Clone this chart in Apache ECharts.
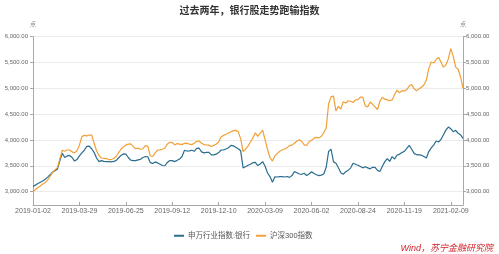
<!DOCTYPE html>
<html><head><meta charset="utf-8">
<script src="https://cdn.jsdelivr.net/npm/echarts@6/dist/echarts.min.js"></script>
<style>html,body{margin:0;padding:0;background:#fff}#c{width:499px;height:254px}</style>
</head><body><div id="c"></div>
<script>
const titleText = '过去两年，银行股走势跑输指数';
const seriesNames = ['申万行业指数:银行', '沪深300指数'];
const sourceText = 'Wind，苏宁金融研究院';
const unitName = '点';
// trading-day calendar (weekday market closures), sampled every 3rd trading day
const startDate = [2019, 0, 2];
const holidays = [
  '2019-01-01','2019-02-04','2019-02-05','2019-02-06','2019-02-07','2019-02-08','2019-04-05',
  '2019-05-01','2019-05-02','2019-05-03','2019-06-07','2019-09-13',
  '2019-10-01','2019-10-02','2019-10-03','2019-10-04','2019-10-07',
  '2020-01-01','2020-01-24','2020-01-27','2020-01-28','2020-01-29','2020-01-30','2020-01-31',
  '2020-04-06','2020-05-01','2020-05-04','2020-05-05','2020-06-25','2020-06-26',
  '2020-10-01','2020-10-02','2020-10-05','2020-10-06','2020-10-07','2020-10-08',
  '2021-01-01','2021-02-11','2021-02-12','2021-02-15','2021-02-16','2021-02-17'
];
const sampleStep = 3;
const bankIndex = [
  3100,3125,3155,3180,3205,3240,3280,3325,3375,3405,
  3435,3600,3740,3660,3690,3700,3660,3590,3620,3690,
  3750,3800,3875,3880,3830,3760,3650,3580,3600,3585,
  3580,3580,3575,3585,3600,3650,3700,3730,3725,3660,
  3610,3600,3600,3614,3625,3660,3680,3675,3560,3545,
  3575,3555,3530,3505,3500,3565,3600,3600,3581,3605,
  3630,3680,3800,3785,3790,3800,3780,3835,3840,3770,
  3750,3760,3760,3710,3710,3725,3755,3805,3807,3825,
  3850,3895,3885,3860,3830,3790,3460,3480,3510,3530,
  3560,3565,3505,3535,3580,3490,3360,3290,3180,3285,
  3282,3288,3290,3282,3292,3275,3310,3390,3365,3340,
  3335,3355,3310,3340,3385,3350,3325,3310,3318,3340,
  3470,3778,3820,3575,3550,3460,3365,3335,3385,3415,
  3455,3550,3530,3510,3485,3460,3480,3460,3440,3470,
  3470,3410,3390,3490,3580,3640,3585,3678,3630,3705,
  3725,3755,3780,3835,3895,3820,3740,3715,3710,3705,
  3678,3650,3775,3845,3900,3980,3960,4010,4100,4190,
  4250,4215,4160,4185,4130,4100,4030
];
const csi300 = [
  3000,3040,3080,3110,3145,3175,3225,3295,3370,3420,
  3465,3640,3800,3780,3805,3805,3770,3750,3790,3900,
  4065,4090,4080,4095,4095,3940,3790,3700,3650,3645,
  3640,3620,3620,3640,3680,3750,3820,3870,3900,3920,
  3925,3875,3830,3840,3820,3830,3890,3875,3690,3680,
  3750,3800,3807,3820,3845,3920,3955,3950,3904,3930,
  3920,3910,3935,3937,3920,3910,3935,3975,3980,3935,
  3910,3904,3900,3872,3895,3920,3960,4060,4088,4110,
  4135,4160,4180,4185,4162,4020,3775,3820,3880,3960,
  4040,4140,4070,4130,4190,4000,3815,3660,3590,3690,
  3740,3780,3805,3825,3850,3890,3900,3935,3980,4004,
  3970,3905,3895,3965,3995,4030,4050,4040,4070,4140,
  4230,4700,4840,4850,4560,4650,4600,4740,4715,4760,
  4750,4725,4775,4780,4830,4830,4660,4640,4735,4690,
  4640,4590,4750,4825,4790,4775,4760,4775,4880,4965,
  4915,4955,4950,4975,5045,5075,4990,4955,4990,5020,
  5065,5160,5387,5510,5490,5555,5600,5505,5410,5450,
  5570,5770,5620,5410,5370,5220,5000
];
const yMin = 2740, yMax = 6000;

function buildDates(count) {
  const out = [];
  const hol = new Set(holidays);
  const d = new Date(Date.UTC(startDate[0], startDate[1], startDate[2]));
  let idx = 0;
  while (out.length < count) {
    const dow = d.getUTCDay();
    const s = d.toISOString().slice(0, 10);
    if (dow !== 0 && dow !== 6 && !hol.has(s)) {
      if (idx % sampleStep === 0) out.push(s);
      idx++;
    }
    d.setUTCDate(d.getUTCDate() + 1);
  }
  return out;
}
const categories = buildDates(bankIndex.length);

const fmt = v => v.toLocaleString('en-US', {minimumFractionDigits: 2, maximumFractionDigits: 2});
const FONT = '"Liberation Sans", "Noto Sans CJK SC", sans-serif';

function yAxisCfg(pos) {
  return {
    type: 'value', position: pos, min: yMin, max: yMax, splitNumber: 6,
    name: unitName, nameLocation: 'end', nameGap: 9,
    nameTextStyle: {fontSize: 6, color: '#888', fontFamily: FONT, align: 'center'},
    axisLine: {show: true, lineStyle: {color: '#a8a8a8', width: 1}},
    axisTick: {show: true, length: 3, lineStyle: {color: '#a8a8a8'}},
    axisLabel: {fontSize: 6, color: '#666', margin: pos === 'left' ? 5 : 3, formatter: fmt,
                showMinLabel: false, fontFamily: FONT},
    splitLine: {show: pos === 'left', lineStyle: {color: '#ebebeb', width: 1}}
  };
}

const chart = echarts.init(document.getElementById('c'), null, {renderer: 'canvas'});
chart.setOption({
  animation: false,
  backgroundColor: '#fff',
  textStyle: {fontFamily: FONT},
  title: {
    text: titleText, left: 'center', top: 1,
    textStyle: {fontSize: 10, fontWeight: 'bold', color: '#333', fontFamily: FONT}
  },
  legend: {
    data: seriesNames, left: 169, top: 227, itemGap: 6, itemWidth: 10, itemHeight: 2,
    icon: 'rect',
    textStyle: {fontSize: 7.5, color: '#555', fontFamily: FONT, padding: [0, 0, 0, -1]}
  },
  grid: {left: 33, right: 36, top: 36.7, bottom: 49, containLabel: false},
  xAxis: {
    type: 'category', data: categories, boundaryGap: false,
    axisLine: {lineStyle: {color: '#a8a8a8', width: 1}},
    axisTick: {show: true, inside: true, length: 3, interval: 18, lineStyle: {color: '#a8a8a8'}},
    axisLabel: {interval: 18, fontSize: 7, color: '#666', margin: 3, fontFamily: FONT},
    splitLine: {show: false}
  },
  yAxis: [yAxisCfg('left'), yAxisCfg('right')],
  series: [
    {name: seriesNames[0], type: 'line', data: bankIndex, yAxisIndex: 0, showSymbol: false,
     color: '#2a6d8e', lineStyle: {width: 1.2, color: '#2a6d8e'}},
    {name: seriesNames[1], type: 'line', data: csi300, yAxisIndex: 1, showSymbol: false,
     color: '#f0a037', lineStyle: {width: 1.2, color: '#f0a037'}}
  ],
  graphic: [{
    type: 'text', right: 6, bottom: 1,
    style: {text: sourceText, fill: '#d2232a', font: 'italic 9px "Liberation Sans", "Noto Sans CJK SC", sans-serif'}
  }]
});
</script></body></html>
